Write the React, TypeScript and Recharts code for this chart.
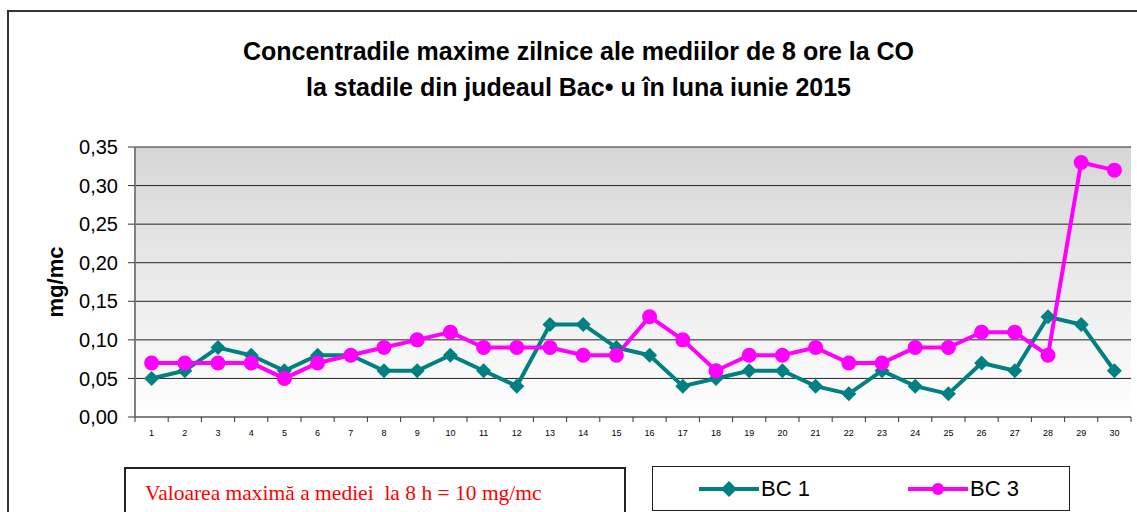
import { LineChart, Line, XAxis, YAxis, CartesianGrid } from 'recharts';

// days of June 2015
const days = ['1', '2', '3', '4', '5', '6', '7', '8', '9', '10', '11', '12', '13', '14', '15',
  '16', '17', '18', '19', '20', '21', '22', '23', '24', '25', '26', '27', '28', '29', '30'];

// max daily 8h mean CO, mg/mc
const bc1 = [0.05, 0.06, 0.09, 0.08, 0.06, 0.08, 0.08, 0.06, 0.06, 0.08, 0.06, 0.04, 0.12, 0.12, 0.09,
  0.08, 0.04, 0.05, 0.06, 0.06, 0.04, 0.03, 0.06, 0.04, 0.03, 0.07, 0.06, 0.13, 0.12, 0.06];
const bc3 = [0.07, 0.07, 0.07, 0.07, 0.05, 0.07, 0.08, 0.09, 0.10, 0.11, 0.09, 0.09, 0.09, 0.08, 0.08,
  0.13, 0.10, 0.06, 0.08, 0.08, 0.09, 0.07, 0.07, 0.09, 0.09, 0.11, 0.11, 0.08, 0.33, 0.32];

const yTicks = [0, 0.05, 0.1, 0.15, 0.2, 0.25, 0.3, 0.35];

const titleLines = [
  'Concentradile maxime zilnice ale mediilor de 8 ore la CO',
  'la stadile din judeaul Bac\u2022 u în luna iunie 2015',
];
const limitNote = 'Valoarea maximă a mediei  la 8 h = 10 mg/mc';

const TEAL = '#008080';
const MAGENTA = '#ff00ff';
const SANS = '"Liberation Sans", Arial, sans-serif';

const data = days.map((d, i) => ({ day: d, bc1: bc1[i], bc3: bc3[i] }));

const PLOT_W = 996;
const BAND = PLOT_W / days.length;

function Diamond({ cx, cy, s = 7.5 }: { cx?: number; cy?: number; s?: number }) {
  if (cx == null || cy == null) return null;
  return <polygon points={`${cx},${cy - s} ${cx + s},${cy} ${cx},${cy + s} ${cx - s},${cy}`} fill={TEAL} />;
}

function Dot({ cx, cy }: { cx?: number; cy?: number }) {
  if (cx == null || cy == null) return null;
  return <circle cx={cx} cy={cy} r={7.5} fill={MAGENTA} />;
}

function DayTick(props: any) {
  const { x, y, payload, index } = props;
  const last = index === days.length - 1;
  return (
    <g>
      <line x1={x - BAND / 2} x2={x - BAND / 2} y1={y - 8} y2={y - 3} stroke="#333" strokeWidth={1} />
      {last && <line x1={x + BAND / 2} x2={x + BAND / 2} y1={y - 8} y2={y - 3} stroke="#333" strokeWidth={1} />}
      <text x={x} y={y + 11} textAnchor="middle" fontSize={9} fontFamily={SANS} fill="#000">
        {payload.value}
      </text>
    </g>
  );
}

function LegendItem({ color, label, circle }: { color: string; label: string; circle?: boolean }) {
  return (
    <div style={{ display: 'flex', alignItems: 'center' }}>
      <svg width={60} height={20}>
        <line x1={0} x2={60} y1={10} y2={10} stroke={color} strokeWidth={4} />
        {circle ? <circle cx={30} cy={10} r={6} fill={color} />
          : <polygon points="30,2 38,10 30,18 22,10" fill={color} />}
      </svg>
      <span style={{ fontFamily: SANS, fontSize: 22, marginLeft: 2 }}>{label}</span>
    </div>
  );
}

export default function App() {
  return (
    <div style={{ position: 'absolute', left: 0, top: 0, width: 1137, height: 512, overflow: 'hidden', background: '#fff' }}>
      <div style={{ position: 'absolute', left: 7, top: 10, width: 1200, height: 600, border: '2px solid #333' }} />
      {titleLines.map((t, i) => (
        <div key={i} style={{
          position: 'absolute', left: 0, width: 1157, top: 37 + i * 36, textAlign: 'center',
          fontFamily: SANS, fontWeight: 'bold', fontSize: 25, lineHeight: '29px', color: '#000', whiteSpace: 'pre',
        }}>{t}</div>
      ))}
      <div style={{ position: 'absolute', left: 0, top: 0 }}>
        <LineChart width={1137} height={512} data={data} margin={{ top: 147, right: 6, bottom: 65, left: 0 }}>
          <defs>
            <linearGradient id="plotBg" x1="0" y1="0" x2="0" y2="1">
              <stop offset="0%" stopColor="#d6d6d6" />
              <stop offset="100%" stopColor="#ffffff" />
            </linearGradient>
          </defs>
          <CartesianGrid vertical={false} stroke="#222" strokeWidth={1} fill="url(#plotBg)" fillOpacity={1} />
          <XAxis
            dataKey="day"
            height={30}
            interval={0}
            padding={{ left: BAND / 2, right: BAND / 2 }}
            axisLine={{ stroke: '#808080', strokeWidth: 2 }}
            tickLine={false}
            tick={<DayTick />}
          />
          <YAxis
            width={135}
            domain={[0, 0.35]}
            ticks={yTicks}
            interval={0}
            tickFormatter={(v: number) => v.toFixed(2).replace('.', ',')}
            axisLine={{ stroke: '#808080', strokeWidth: 2 }}
            tickLine={{ stroke: '#333' }}
            tickSize={7}
            tickMargin={10}
            tick={{ fontSize: 20, fontFamily: SANS, fill: '#000' }}
            label={{
              value: 'mg/mc', angle: -90, position: 'insideLeft', offset: 55,
              style: { fontSize: 22, fontWeight: 'bold', fontFamily: SANS, fill: '#000', textAnchor: 'middle' },
            }}
          />
          <YAxis
            yAxisId="frame"
            orientation="right"
            width={0}
            domain={[0, 0.35]}
            tick={false}
            tickLine={false}
            axisLine={{ stroke: '#808080', strokeWidth: 2 }}
          />
          <Line dataKey="bc1" name="BC 1" stroke={TEAL} strokeWidth={4} dot={<Diamond />} activeDot={false} isAnimationActive={false} />
          <Line dataKey="bc3" name="BC 3" stroke={MAGENTA} strokeWidth={4} dot={<Dot />} activeDot={false} isAnimationActive={false} />
        </LineChart>
      </div>
      <div style={{
        position: 'absolute', left: 124, top: 467, width: 502, height: 60, border: '2px solid #222',
        boxSizing: 'border-box',
      }}>
        <div style={{ position: 'absolute', left: 19, top: 12, fontFamily: '"Liberation Serif", "Times New Roman", serif', fontSize: 21.5, color: '#ff0000', whiteSpace: 'pre' }}>
          {limitNote}
        </div>
      </div>
      <div style={{
        position: 'absolute', left: 652, top: 466, width: 418, height: 45, border: '1px solid #222',
        boxSizing: 'border-box', display: 'flex', alignItems: 'center',
      }}>
        <div style={{ position: 'absolute', left: 46 }}><LegendItem color={TEAL} label="BC 1" /></div>
        <div style={{ position: 'absolute', left: 255 }}><LegendItem color={MAGENTA} label="BC 3" circle /></div>
      </div>
    </div>
  );
}
